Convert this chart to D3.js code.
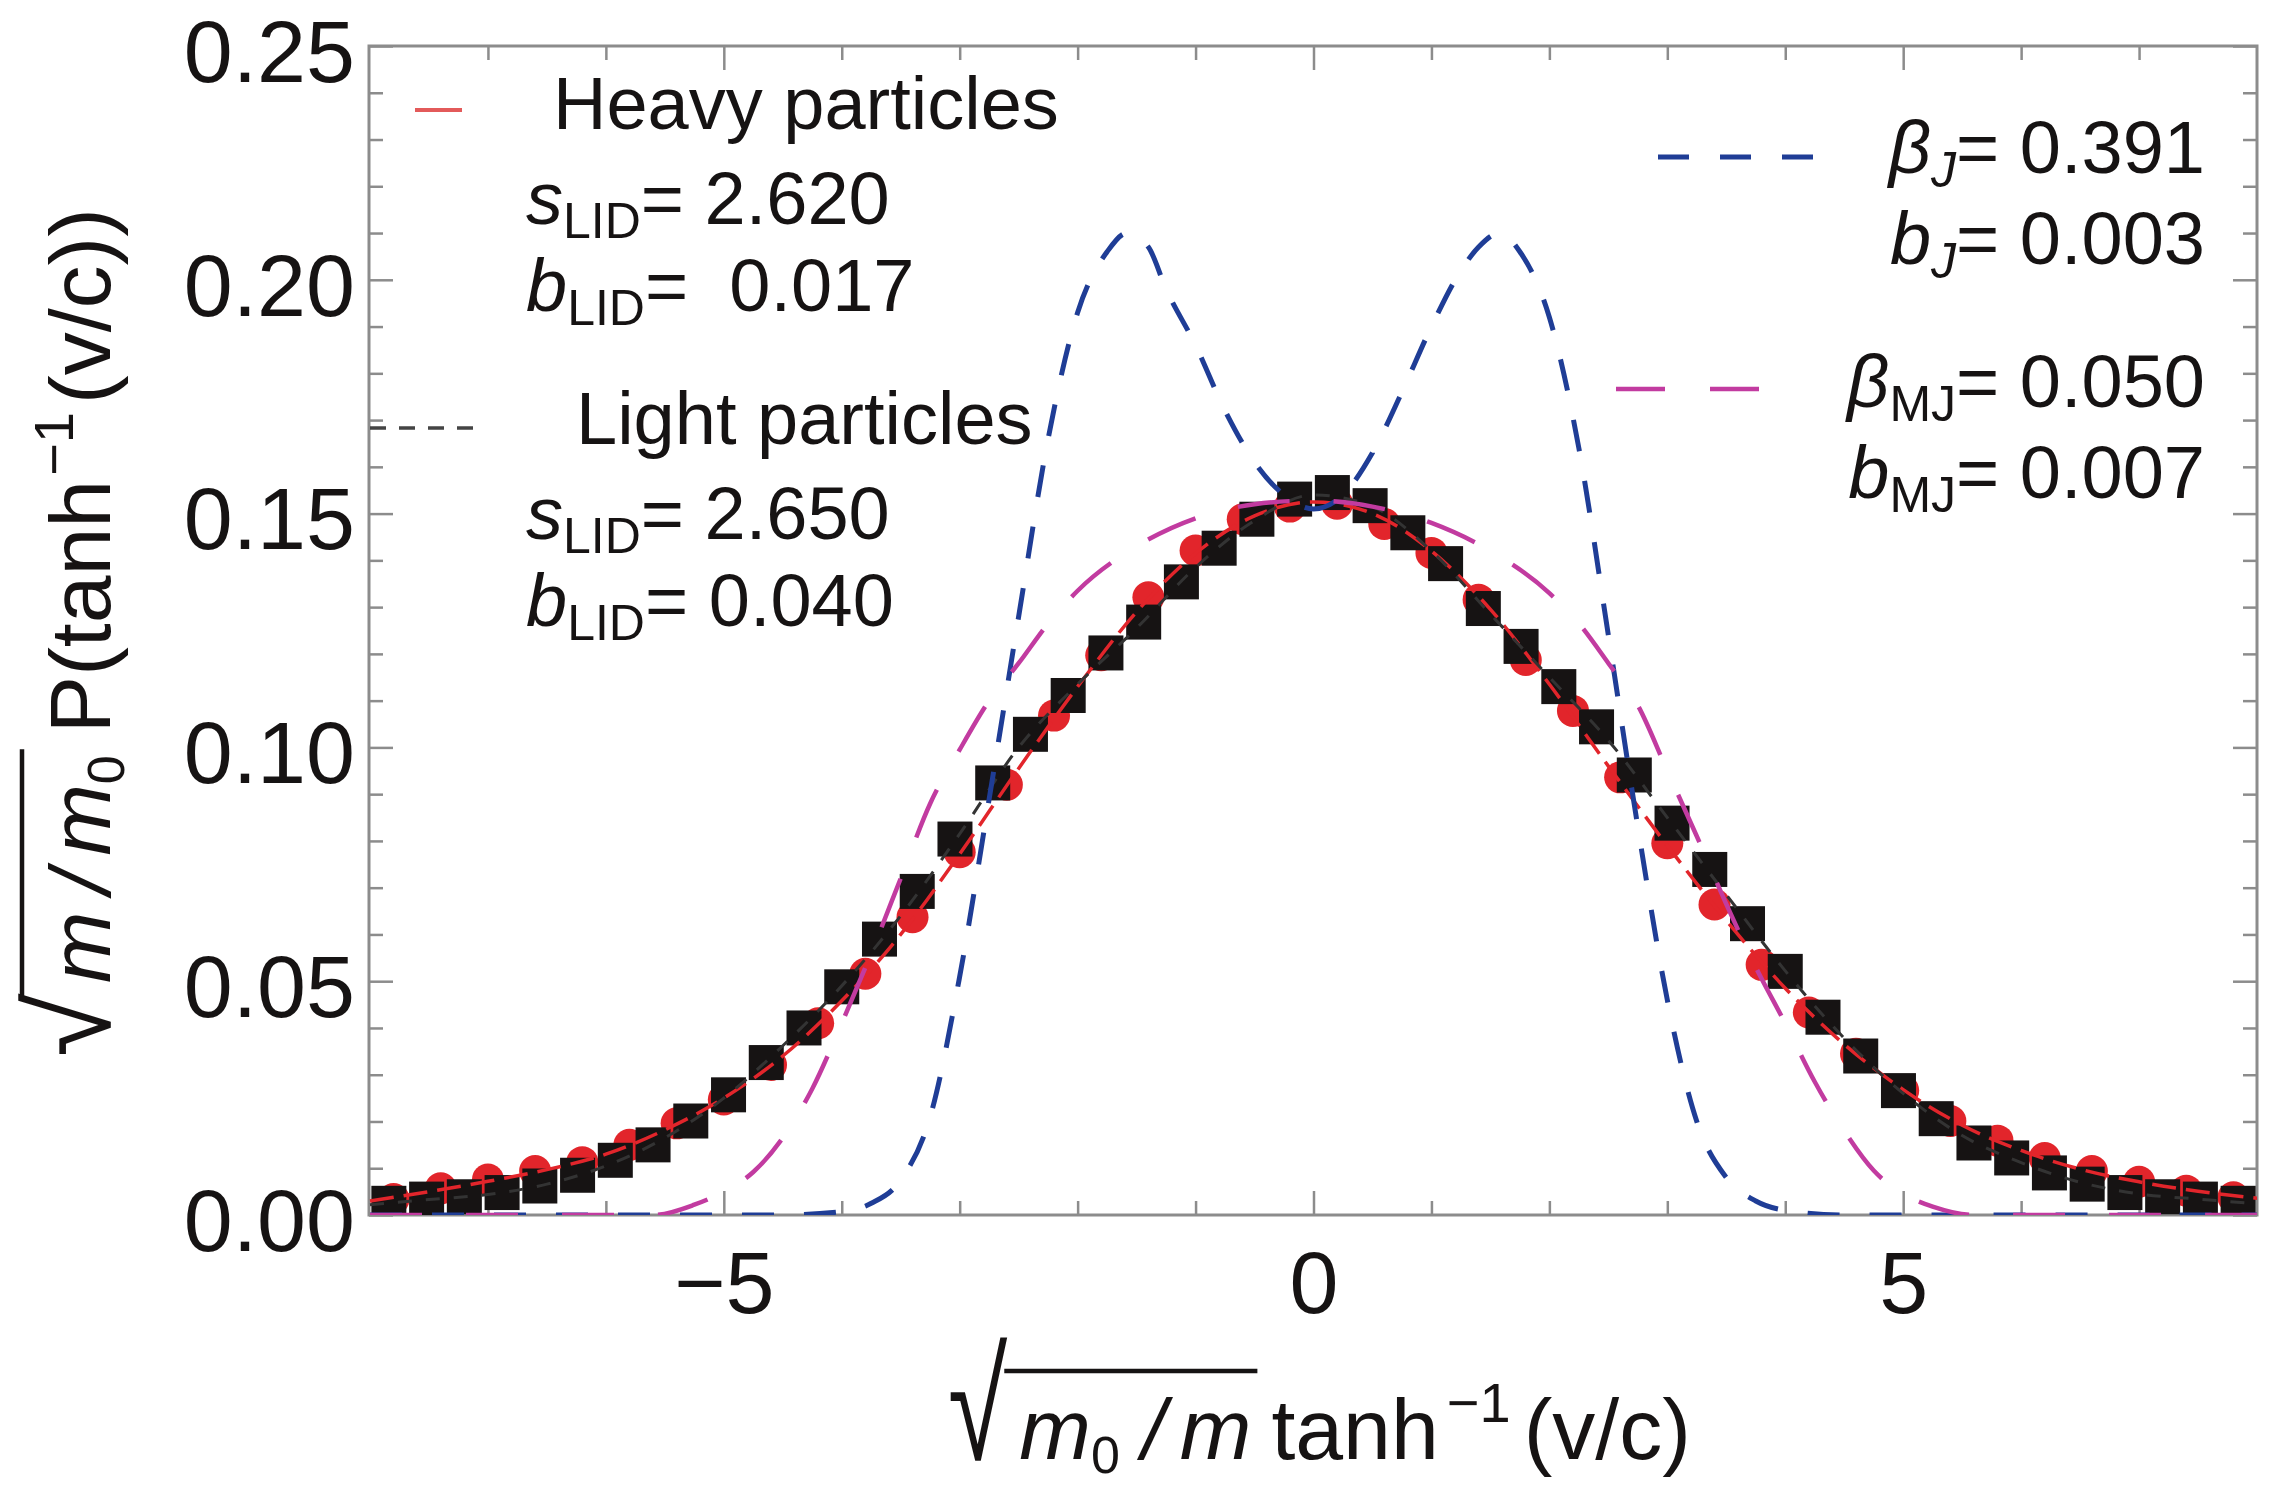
<!DOCTYPE html>
<html>
<head>
<meta charset="utf-8">
<script src="https://cdn.jsdelivr.net/npm/d3@7"></script>
<style>
  body { margin: 0; background: #fff; }
  text { font-family: "Liberation Sans", Arial, sans-serif; }
</style>
</head>
<body>
<div id="chart"></div>
<script>
// ---- values ----
const xTicks = [-5, 0, 5];
const xMinorTicks = [-7, -6, -4, -3, -2, -1, 1, 2, 3, 4, 6, 7];
const yTicks = [0, 0.05, 0.10, 0.15, 0.20, 0.25];
const yMinorTicks = [0.01, 0.02, 0.03, 0.04, 0.06, 0.07, 0.08, 0.09, 0.11, 0.12, 0.13, 0.14,
                     0.16, 0.17, 0.18, 0.19, 0.21, 0.22, 0.23, 0.24];

// heavy particles (red circles)
const heavyX = [-7.8, -7.4, -7.0, -6.6, -6.2, -5.8, -5.4, -5.0, -4.6, -4.2, -3.8, -3.4, -3.0, -2.6,
                -2.2, -1.8, -1.4, -1.0, -0.6, -0.2, 0.2, 0.6, 1.0, 1.4, 1.8, 2.2, 2.6, 3.0,
                3.4, 3.8, 4.2, 4.6, 5.0, 5.4, 5.8, 6.2, 6.6, 7.0, 7.4, 7.8];
const heavyY = [0.0034, 0.0057, 0.0076, 0.0094, 0.0113, 0.0150, 0.0196, 0.0247, 0.0321, 0.0410,
                0.0516, 0.0637, 0.0776, 0.0920, 0.1068, 0.1197, 0.1321, 0.1421, 0.1488, 0.1515,
                0.1521, 0.1478, 0.1416, 0.1316, 0.1187, 0.1078, 0.0936, 0.0795, 0.0664, 0.0535,
                0.0433, 0.0345, 0.0266, 0.0201, 0.0159, 0.0122, 0.0094, 0.0071, 0.0052, 0.0038];

// light particles (black squares)
const lightX = [-7.84, -7.52, -7.20, -6.88, -6.56, -6.24, -5.92, -5.60, -5.28, -4.96, -4.64, -4.32,
                -4.00, -3.68, -3.36, -3.04, -2.72, -2.40, -2.08, -1.76, -1.44, -1.12, -0.80, -0.48,
                -0.16, 0.16, 0.48, 0.80, 1.12, 1.44, 1.76, 2.08, 2.40, 2.72, 3.04, 3.36, 3.68,
                4.00, 4.32, 4.64, 4.96, 5.28, 5.60, 5.92, 6.24, 6.56, 6.88, 7.20, 7.52, 7.84];
const lightY = [0.0025, 0.0034, 0.0039, 0.0048, 0.0062, 0.0085, 0.0117, 0.0150, 0.0201, 0.0257,
                0.0326, 0.0400, 0.0488, 0.0590, 0.0692, 0.0804, 0.0924, 0.1028, 0.1111, 0.1202,
                0.1268, 0.1354, 0.1426, 0.1488, 0.1531, 0.1545, 0.1517, 0.1459, 0.1393, 0.1297,
                0.1216, 0.1130, 0.1044, 0.0941, 0.0838, 0.0739, 0.0623, 0.0521, 0.0423, 0.0340,
                0.0266, 0.0206, 0.0154, 0.0122, 0.0090, 0.0066, 0.0048, 0.0039, 0.0034, 0.0025];

// LID fits (red dashed for heavy, black dotted for light)
const fitX = [-8, -7.5, -7, -6.5, -6, -5.5, -5, -4.5, -4, -3.5, -3, -2.5, -2, -1.5, -1, -0.5, 0,
              0.5, 1, 1.5, 2, 2.5, 3, 3.5, 4, 4.5, 5, 5.5, 6, 6.5, 7, 7.5, 8];
const heavyFit = [0.0030, 0.0050, 0.0072, 0.0097, 0.0130, 0.0182, 0.0250, 0.0340, 0.0458, 0.0600,
                  0.0772, 0.0955, 0.1130, 0.1290, 0.1415, 0.1495, 0.1525, 0.1500, 0.1420, 0.1295,
                  0.1135, 0.0960, 0.0790, 0.0630, 0.0485, 0.0365, 0.0268, 0.0192, 0.0138, 0.0098,
                  0.0071, 0.0051, 0.0036];
const lightFit = [0.0022, 0.0033, 0.0044, 0.0066, 0.0105, 0.0165, 0.0250, 0.0362, 0.0490, 0.0640,
                  0.0815, 0.1000, 0.1135, 0.1255, 0.1385, 0.1485, 0.1540, 0.1515, 0.1420, 0.1285,
                  0.1150, 0.1015, 0.0850, 0.0685, 0.0522, 0.0378, 0.0260, 0.0170, 0.0112, 0.0070,
                  0.0045, 0.0034, 0.0024];

// Juttner fit (blue dashed)
const juttnerX = [-8, -4.5, -4.0, -3.75, -3.5, -3.25, -3.0, -2.75, -2.5, -2.25, -2.0, -1.75, -1.58,
                  -1.4, -1.25, -1.0, -0.75, -0.5, -0.25, 0, 0.25, 0.5, 0.75, 1.0, 1.25, 1.4, 1.58,
                  1.75, 2.0, 2.25, 2.5, 2.75, 3.0, 3.25, 3.5, 3.75, 4.0, 4.5, 8];
const juttnerY = [0, 0, 0.0007, 0.0025, 0.0075, 0.021, 0.051, 0.089, 0.128, 0.166, 0.193, 0.206,
                  0.210, 0.207, 0.198, 0.186, 0.172, 0.161, 0.154, 0.151, 0.154, 0.163, 0.176,
                  0.190, 0.202, 0.207, 0.210, 0.206, 0.192, 0.164, 0.124, 0.083, 0.046, 0.020,
                  0.0080, 0.0030, 0.0010, 0, 0];

// Maxwell-Juttner fit (magenta long dashes)
const mjX = [-8, -5.6, -5.25, -5.0, -4.75, -4.5, -4.25, -4.0, -3.75, -3.5, -3.25, -3.0, -2.75,
             -2.5, -2.25, -2.0, -1.5, -1.0, -0.5, 0, 0.5, 1.0, 1.5, 2.0, 2.25, 2.5, 2.75, 3.0,
             3.25, 3.5, 3.75, 4.0, 4.25, 4.5, 4.75, 5.0, 5.25, 5.6, 8];
const mjY = [0, 0, 0.0022, 0.0050, 0.0092, 0.0165, 0.027, 0.041, 0.056, 0.072, 0.088, 0.0995,
             0.110, 0.118, 0.1265, 0.1335, 0.1430, 0.1490, 0.1520, 0.1528, 0.1515, 0.1480,
             0.1420, 0.1330, 0.1265, 0.1180, 0.1090, 0.0950, 0.0810, 0.0665, 0.0530, 0.0410,
             0.0285, 0.0180, 0.0095, 0.0045, 0.0018, 0, 0];

// legend texts
const lidNames = ["Heavy particles", "Light particles"];
const lidS = ["2.620", "2.650"];
const lidB = [" 0.017", "0.040"];
const fitSyms = [["β", "J", "0.391"], ["b", "J", "0.003"], ["β", "MJ", "0.050"], ["b", "MJ", "0.007"]];

// ---- drawing ----
const W = 2269, H = 1496;
const margin = {top: 46, right: 12, bottom: 281, left: 369};
const plotW = W - margin.left - margin.right;
const plotH = H - margin.top - margin.bottom;
const gray = "#8c8c8c";
const ink = "#161313";

const svg = d3.select("#chart").append("svg")
    .attr("width", W)
    .attr("height", H);

const x = d3.scaleLinear().domain([-8, 8]).range([margin.left + 1, margin.left + plotW]);
const y = d3.scaleLinear().domain([0, 0.25]).range([margin.top + plotH, margin.top]);

svg.append("defs").append("clipPath").attr("id", "plotClip")
    .append("rect")
    .attr("x", margin.left).attr("y", margin.top)
    .attr("width", plotW).attr("height", plotH);

// axes: ticks on all four sides, pointing inward
function drawAxis(axis, values, len, transform, labelled, pad) {
    let g = svg.append("g")
        .attr("transform", transform)
        .call(axis.tickValues(values).tickSizeInner(-len).tickSizeOuter(0).tickPadding(pad || 0));
    g.select(".domain").remove();
    g.selectAll("line").attr("stroke", gray).attr("stroke-width", 2.5);
    if (!labelled) g.selectAll("text").remove();
    else g.selectAll("text")
        .attr("font-size", 88)
        .attr("font-family", '"Liberation Sans", Arial, sans-serif')
        .attr("fill", ink);
    return g;
}

const bottomY = margin.top + plotH, rightX = margin.left + plotW;
drawAxis(d3.axisBottom(x).tickFormat(d => d < 0 ? "\u2212" + Math.abs(d) : d), xTicks, 24,
         `translate(0,${bottomY})`, true, 36);
drawAxis(d3.axisBottom(x), xMinorTicks, 14, `translate(0,${bottomY})`, false);
drawAxis(d3.axisTop(x), xTicks, 24, `translate(0,${margin.top})`, false);
drawAxis(d3.axisTop(x), xMinorTicks, 14, `translate(0,${margin.top})`, false);
drawAxis(d3.axisLeft(y).tickFormat(d3.format(".2f")), yTicks, 24, `translate(${margin.left},0)`, true, 14)
    .selectAll("text").attr("dy", "0.40em");
drawAxis(d3.axisLeft(y), yMinorTicks, 14, `translate(${margin.left},0)`, false);
drawAxis(d3.axisRight(y), yTicks, 24, `translate(${rightX},0)`, false);
drawAxis(d3.axisRight(y), yMinorTicks, 14, `translate(${rightX},0)`, false);

svg.append("rect")
    .attr("x", margin.left).attr("y", margin.top)
    .attr("width", plotW).attr("height", plotH)
    .attr("fill", "none")
    .attr("stroke", gray)
    .attr("stroke-width", 3);

const plot = svg.append("g").attr("clip-path", "url(#plotClip)");

// data points
plot.append("g").selectAll("circle")
    .data(d3.zip(heavyX, heavyY))
    .join("circle")
    .attr("cx", d => x(d[0]))
    .attr("cy", d => y(d[1]))
    .attr("r", 16)
    .attr("fill", "#e2252b");

plot.append("g").selectAll("rect")
    .data(d3.zip(lightX, lightY))
    .join("rect")
    .attr("x", d => x(d[0]) - 17.5)
    .attr("y", d => y(d[1]) - 17.5)
    .attr("width", 35)
    .attr("height", 35)
    .attr("fill", ink);

// fit curves
const line = d3.line()
    .x(d => x(d[0]))
    .y(d => y(d[1]))
    .curve(d3.curveMonotoneX);

function drawCurve(xs, ys, color, width, dash) {
    plot.append("path")
        .datum(d3.zip(xs, ys))
        .attr("d", line)
        .attr("fill", "none")
        .attr("stroke", color)
        .attr("stroke-width", width)
        .attr("stroke-dasharray", dash);
}
drawCurve(fitX, heavyFit, "#e2252b", 3.5, "24,10");
drawCurve(fitX, lightFit, "#333", 3, "14,14");
drawCurve(juttnerX, juttnerY, "#1f3d96", 5, "32,30");
drawCurve(mjX, mjY, "#c23ba0", 4.5, "52,44");

// ---- legends ----
function mathText(x0, y0, parts, anchor) {
    let t = svg.append("text")
        .attr("x", x0).attr("y", y0)
        .attr("font-size", 74)
        .attr("fill", ink)
        .attr("text-anchor", anchor || "start")
        .attr("xml:space", "preserve");
    parts.forEach(p => {
        t.append("tspan")
            .attr("font-style", p.it ? "italic" : null)
            .attr("font-size", p.size || null)
            .attr("dy", p.dy || null)
            .text(p.t);
    });
}

// left legend
svg.append("line")
    .attr("x1", 415).attr("x2", 462).attr("y1", 110).attr("y2", 110)
    .attr("stroke", "#e35a5a").attr("stroke-width", 4);
svg.append("line")
    .attr("x1", 370).attr("x2", 473).attr("y1", 428).attr("y2", 428)
    .attr("stroke", "#444").attr("stroke-width", 3.5).attr("stroke-dasharray", "16,13");

const lidTop = [129, 444];
lidNames.forEach((name, i) => {
    let y0 = lidTop[i];
    mathText(i === 0 ? 553 : 576, y0, [{t: name}]);
    mathText(526, y0 + 95, [{t: "s", it: true}, {t: "LID", size: 50, dy: 14}, {t: "= " + lidS[i], dy: -14}]);
    mathText(526, y0 + 182, [{t: "b", it: true}, {t: "LID", size: 50, dy: 14}, {t: "= " + lidB[i], dy: -14}]);
});

// right legend
svg.append("line")
    .attr("x1", 1658).attr("x2", 1814).attr("y1", 157).attr("y2", 157)
    .attr("stroke", "#1f3d96").attr("stroke-width", 5).attr("stroke-dasharray", "31,31");
svg.append("line")
    .attr("x1", 1616).attr("x2", 1759).attr("y1", 389).attr("y2", 389)
    .attr("stroke", "#c23ba0").attr("stroke-width", 4.5).attr("stroke-dasharray", "49,45");

const fitBase = [173, 264, 407, 498];
fitSyms.forEach((f, i) => {
    mathText(2205, fitBase[i], [
        {t: f[0], it: true},
        {t: f[1], size: 50, dy: 14, it: f[1] === "J"},
        {t: "= " + f[2], dy: -14}
    ], "end");
});

// ---- axis titles (square roots) ----
function setRuns(g, runs) {
    let cx = 0, pos = {};
    runs.forEach(r => {
        cx += r.gap || 0;
        let t = g.append("text")
            .attr("x", cx).attr("y", r.dy || 0)
            .attr("font-size", r.size || 86)
            .attr("font-style", r.it ? "italic" : null)
            .attr("font-family", r.font || null)
            .attr("fill", ink)
            .text(r.t);
        if (r.stretch) {
            // make the radical sign taller, as in the typeset original
            t.attr("y", 0).attr("transform", `translate(0,${r.dy}) scale(1,${r.stretch})`);
        }
        if (r.key) pos[r.key + "0"] = cx;
        cx += t.node().getComputedTextLength();
        if (r.key) pos[r.key + "1"] = cx;
    });
    return pos;
}

function rootLabel(transform, radical, radicand, rest) {
    let g = svg.append("g").attr("transform", transform);
    let pos = setRuns(g, [radical].concat(radicand).concat(rest));
    g.append("line")
        .attr("x1", pos.rad1 - 3).attr("x2", pos.end1 + 6)
        .attr("y1", -88).attr("y2", -88)
        .attr("stroke", ink).attr("stroke-width", 4.5);
}

rootLabel("translate(948,1459)",
    {t: "\u221A", size: 108, dy: 1, stretch: 1.43, key: "rad"},
    [{t: "m", it: true, gap: 12}, {t: "0", size: 52, dy: 14}, {t: "/", it: true, gap: 22},
     {t: "m", it: true, gap: 14, key: "end"}],
    [{t: "tanh", gap: 20}, {t: "\u22121", size: 56, dy: -37, gap: 8}, {t: "(v/c)", gap: 13}]);

rootLabel("translate(110,1057) rotate(-90)",
    {t: "\u221A", size: 116, dy: 0, font: '"DejaVu Sans"', key: "rad"},
    [{t: "m", it: true, gap: 10}, {t: "/", it: true, gap: 18}, {t: "m", it: true, gap: 14},
     {t: "0", size: 52, dy: 14, key: "end"}],
    [{t: "P(tanh", gap: 22}, {t: "\u22121", size: 56, dy: -37, gap: 4}, {t: "(v/c))", gap: 8}]);
</script>
</body>
</html>
